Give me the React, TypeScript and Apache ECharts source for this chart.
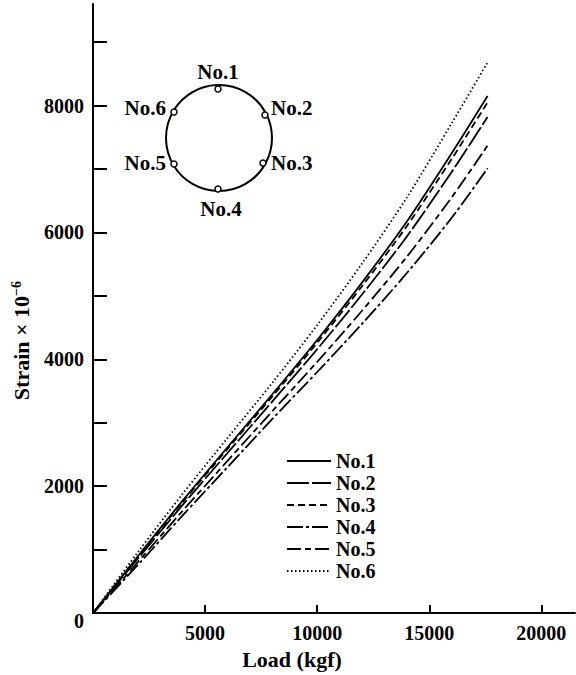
import React, { useEffect, useRef } from "react";
import * as echarts from "echarts";

const loads = [0, 2000, 4000, 6000, 8000, 10000, 12000, 14000, 16000, 17600];
const no1 = [0, 897, 1772, 2614, 3449, 4305, 5209, 6173, 7248, 8150];
const no2 = [0, 857, 1705, 2523, 3336, 4159, 5021, 5937, 6953, 7820];
const no3 = [0, 885, 1752, 2587, 3415, 4261, 5152, 6101, 7158, 8050];
const no4 = [0, 760, 1540, 2300, 3060, 3800, 4560, 5360, 6230, 7010];
const no5 = [0, 803, 1613, 2399, 3183, 3960, 4765, 5617, 6552, 7370];
const no6 = [0, 960, 1880, 2760, 3630, 4540, 5510, 6550, 7720, 8680];
const seriesNames = ["No.1", "No.2", "No.3", "No.4", "No.5", "No.6"];
const seriesValues = [no1, no2, no3, no4, no5, no6];
const xTickValues = [5000, 10000, 15000, 20000];
const yLabelValues = [0, 2000, 4000, 6000, 8000];
const yTickValues = [1000, 2000, 3000, 4000, 5000, 6000, 7000, 8000, 9000];

const FONT = '"Liberation Serif", "Times New Roman", serif';
const W = "bold";
const dashes: any[] = ["solid", [22, 3], [7, 4], [16, 3, 3, 3], [14, 4, 6, 4], [1.5, 2.5]];

export default function App() {
  const ref = useRef<HTMLDivElement>(null);
  useEffect(() => {
    const chart = echarts.init(ref.current!, null, { renderer: "svg" });
    const cx = 219, cy = 138, r = 53;
    const gaugePts = [
      { name: "No.1", x: 218, y: 89, tx: 218, ty: 72, align: "center" },
      { name: "No.2", x: 265, y: 115, tx: 271, ty: 108, align: "left" },
      { name: "No.3", x: 263, y: 163, tx: 271, ty: 163, align: "left" },
      { name: "No.4", x: 218, y: 189, tx: 221, ty: 209, align: "center" },
      { name: "No.5", x: 174, y: 164, tx: 166, ty: 163, align: "right" },
      { name: "No.6", x: 174, y: 112, tx: 166, ty: 108, align: "right" },
    ];
    const graphics: any[] = [
      { type: "circle", shape: { cx, cy, r }, style: { fill: "none", stroke: "#000", lineWidth: 2 }, z: 10 },
    ];
    gaugePts.forEach((g) => {
      graphics.push({ type: "circle", shape: { cx: g.x, cy: g.y, r: 3 }, style: { fill: "#fff", stroke: "#000", lineWidth: 1.5 }, z: 11 });
      graphics.push({
        type: "text", x: g.tx, y: g.ty, z: 11,
        style: { text: g.name, fill: "#000", font: `${W} 21px ${FONT}`, align: g.align, verticalAlign: "middle" },
      });
    });
    chart.setOption({
      animation: false,
      backgroundColor: "#fff",
      textStyle: { fontFamily: FONT },
      grid: { left: 93, right: 1, top: 4, bottom: 57 },
      legend: {
        orient: "vertical",
        left: 281,
        top: 446,
        itemWidth: 44,
        itemHeight: 14,
        itemGap: 2,
        data: seriesNames,
        itemStyle: { opacity: 0 },
        textStyle: { fontFamily: FONT, fontSize: 20, fontWeight: W, color: "#000" },
      },
      xAxis: {
        type: "value",
        min: 0,
        max: 21500,
        name: "Load (kgf)",
        nameLocation: "middle",
        nameGap: 31,
        nameTextStyle: { fontFamily: FONT, fontSize: 22, fontWeight: W, color: "#000", padding: [0, 84, 0, 0] },
        axisLine: { show: true, lineStyle: { color: "#000", width: 2 } },
        axisTick: { show: true, inside: true, length: 8, customValues: xTickValues, lineStyle: { color: "#000", width: 2 } },
        axisLabel: {
          customValues: xTickValues, color: "#000", fontSize: 20, fontWeight: W, fontFamily: FONT, margin: 10,
          formatter: (v: number) => String(v),
        },
        splitLine: { show: false },
      },
      yAxis: {
        type: "value",
        min: 0,
        max: 9600,
        name: "Strain × 10{sup|−6}",
        nameLocation: "middle",
        nameGap: 60,
        nameTextStyle: {
          fontFamily: FONT, fontSize: 22, fontWeight: W, color: "#000", padding: [0, 64, 0, 0],
          rich: { sup: { fontFamily: FONT, fontSize: 14, fontWeight: W, color: "#000", padding: [0, 0, 10, 0] } },
        },
        axisLine: { show: true, lineStyle: { color: "#000", width: 2 } },
        axisTick: { show: true, inside: true, length: 14, customValues: yTickValues, lineStyle: { color: "#000", width: 2 } },
        axisLabel: {
          customValues: yLabelValues,
          color: "#000", fontSize: 20, fontWeight: W, fontFamily: FONT, margin: 9,
          formatter: (v: number) => (v === 0 ? "{z|0}" : String(v)),
          rich: { z: { fontSize: 20, fontWeight: W, fontFamily: FONT, color: "#000", padding: [16, 0, 0, 0] } },
        },
        splitLine: { show: false },
      },
      series: seriesNames.map((n, i) => ({
        name: n,
        type: "line",
        data: loads.map((l, j) => [l, seriesValues[i][j]]),
        showSymbol: false,
        symbol: "none",
        smooth: 0.3,
        lineStyle: { color: "#000", width: 1.8, type: dashes[i] },
        itemStyle: { color: "#000" },
      })),
      graphic: graphics,
    });
    return () => chart.dispose();
  }, []);
  return <div ref={ref} style={{ position: "absolute", left: 0, top: 0, width: 576, height: 675 }} />;
}
